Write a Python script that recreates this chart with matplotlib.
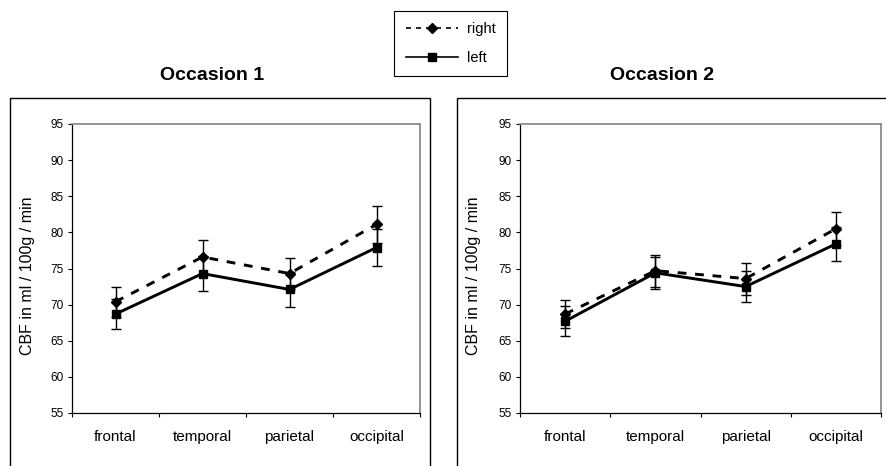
import matplotlib.pyplot as plt
from matplotlib.patches import Rectangle

plt.rcParams['font.family'] = ['Liberation Sans', 'DejaVu Sans']

regions = ['frontal', 'temporal', 'parietal', 'occipital']

occ1_right = [70.4, 76.6, 74.3, 81.1]
occ1_right_err = [2.1, 2.3, 2.1, 2.6]
occ1_left = [68.7, 74.3, 72.1, 77.9]
occ1_left_err = [2.1, 2.4, 2.4, 2.6]

occ2_right = [68.7, 74.7, 73.6, 80.5]
occ2_right_err = [2.0, 2.2, 2.2, 2.3]
occ2_left = [67.7, 74.4, 72.5, 78.4]
occ2_left_err = [2.1, 2.2, 2.2, 2.3]

yticks = [55, 60, 65, 70, 75, 80, 85, 90, 95]
ylabel = 'CBF in ml / 100g / min'

W, H = 886, 466


def draw_panel(ax, right, right_err, left, left_err):
    x = list(range(len(regions)))
    ax.errorbar(x, right, yerr=right_err, fmt='none', ecolor='black',
                elinewidth=1.0, capsize=3.5, capthick=1.0, zorder=2)
    ax.errorbar(x, left, yerr=left_err, fmt='none', ecolor='black',
                elinewidth=1.0, capsize=3.5, capthick=1.0, zorder=2)
    ax.plot(x, right, color='black', lw=2.1, ls=(0, (3, 3)),
            marker='D', ms=5.5, label='right', zorder=3)
    ax.plot(x, left, color='black', lw=2.1, ls='-',
            marker='s', ms=6, label='left', zorder=4)

    ax.set_xlim(-0.5, len(regions) - 0.5)
    ax.set_ylim(55, 95)
    ax.set_yticks(yticks)
    ax.tick_params(axis='y', labelsize=8.5, length=3, width=0.8, pad=3)
    ax.set_xticks([i - 0.5 for i in range(len(regions) + 1)])
    ax.set_xticklabels([])
    ax.set_xticks(x, minor=True)
    ax.set_xticklabels(regions, minor=True)
    ax.tick_params(axis='x', which='major', length=3, width=0.8)
    ax.tick_params(axis='x', which='minor', length=0, labelsize=11, pad=12)

    for side in ['top', 'right']:
        ax.spines[side].set_color('#8c8c8c')
        ax.spines[side].set_linewidth(1.3)
    for side in ['left', 'bottom']:
        ax.spines[side].set_color('black')
        ax.spines[side].set_linewidth(0.9)

    ax.text(-0.129, 0.474, ylabel, rotation=90, ha='center', va='center',
            fontsize=11.5, transform=ax.transAxes)


fig = plt.figure(figsize=(W / 100, H / 100), dpi=100)

ax1 = fig.add_axes([72 / W, 1 - 413 / H, 348 / W, 289 / H])
ax2 = fig.add_axes([520 / W, 1 - 413 / H, 361 / W, 289 / H])

draw_panel(ax1, occ1_right, occ1_right_err, occ1_left, occ1_left_err)
draw_panel(ax2, occ2_right, occ2_right_err, occ2_left, occ2_left_err)

# outer frames around each chart
fig.add_artist(Rectangle((10 / W, -0.1), 420 / W, (H - 98) / H + 0.1,
                         transform=fig.transFigure, fill=False,
                         edgecolor='black', lw=1.0))
fig.add_artist(Rectangle((457 / W, -0.1), 0.6, (H - 98) / H + 0.1,
                         transform=fig.transFigure, fill=False,
                         edgecolor='black', lw=1.0))

fig.text(212 / W, 1 - 75 / H, 'Occasion 1', ha='center', va='center',
         fontsize=14, fontweight='bold')
fig.text(662 / W, 1 - 75 / H, 'Occasion 2', ha='center', va='center',
         fontsize=14, fontweight='bold')

handles, labels = ax1.get_legend_handles_labels()
leg = fig.legend(handles, labels, loc='center',
                 bbox_to_anchor=(450.5 / W, 1 - 43.5 / H),
                 fontsize=10.5, frameon=True, fancybox=False,
                 edgecolor='black', framealpha=1, handlelength=3.6,
                 labelspacing=1.0, borderpad=0.8, handletextpad=0.6,
                 borderaxespad=0)
leg.get_frame().set_linewidth(0.8)
for line in leg.get_lines():
    line.set_linewidth(1.2)

fig.savefig('out.png', dpi=100)
